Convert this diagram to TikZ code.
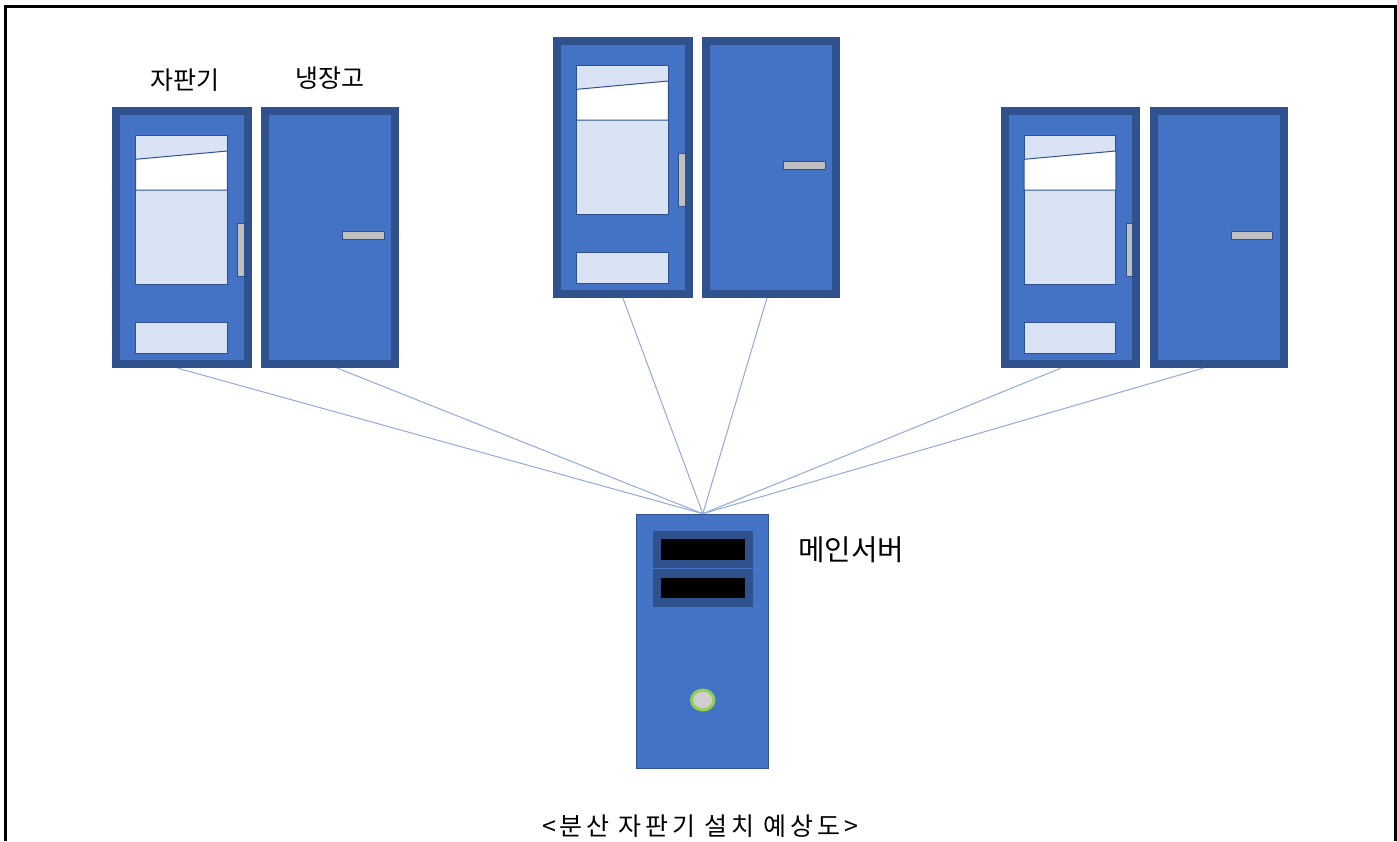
\documentclass[tikz,border=0pt]{standalone}
\usepackage{fontspec}
\setmainfont{Noto Sans CJK KR}
\usepackage{xcolor}
\usepackage{tikz}

\definecolor{bodyblue}{HTML}{4472C4}
\definecolor{rimblue}{HTML}{2F528F}
\definecolor{paneblue}{HTML}{DAE3F3}
\definecolor{gripgray}{HTML}{BFBFBF}
\definecolor{linkblue}{HTML}{8FAADC}
\definecolor{btngray}{HTML}{D0CECE}
\definecolor{btngreen}{HTML}{92D050}

\tikzset{
    body/.style={rectangle, fill=bodyblue, draw=rimblue, line width=4pt, inner sep=0pt},
    panel/.style={fill=paneblue, draw=rimblue, line width=0.5pt},
    grip/.style={fill=gripgray, draw=rimblue, line width=0.5pt},
    link/.style={draw=linkblue, line width=0.5pt},
    tag/.style={font=\fontsize{12.5}{15}\selectfont}
}

\begin{document}
\begin{tikzpicture}[x=0.5pt,y=-0.5pt]
        \useasboundingbox (0,0) rectangle (1397,841);

        %FRAME
        \draw[line width=1.5pt] (5,841) |- (1395,6) -- (1395,841);

        %MACHINES
        \foreach \i/\dx/\dy in {1/0/0, 2/441/-70, 3/888.5/0}{
            \begin{scope}[shift={(\dx,\dy)}]
                % vending machine
                \node[body, minimum width=65.7pt, minimum height=126.8pt] (vm\i) at (182,237.5) {};
                \filldraw[panel] (135.7,135) rectangle (227.3,284.3);
                \filldraw[fill=white, draw=rimblue, line width=0.5pt] (135.7,159.3) -- (227.3,151) -- (227.3,190) -- (135.7,190) -- cycle;
                \filldraw[panel] (135.7,322.7) rectangle (227.3,353.3);
                \filldraw[grip] (237.7,223.3) rectangle (244,276.7);
                % fridge
                \node[body, minimum width=65pt, minimum height=126.5pt] (fr\i) at (330,237.5) {};
                \filldraw[grip] (342.7,231) rectangle (384.3,239);
            \end{scope}
        }

        %SERVER
        \node[rectangle, fill=bodyblue, draw=rimblue, line width=0.5pt, inner sep=0pt,
              minimum width=66pt, minimum height=127pt] (srv) at (702.8,641.2) {};
        \fill[rimblue] (653.3,531) rectangle (753.3,568.3);
        \fill[rimblue] (653.3,569.3) rectangle (753.3,606.7);
        \fill[black] (661,539) rectangle (745,560);
        \fill[black] (661,577.7) rectangle (745,598.3);
        \filldraw[fill=btngray, draw=btngreen, line width=1.5pt] (702.7,700) ellipse (5.6pt and 5pt);

        %LINKS
        \foreach \n/\s in {vm1/-2pt, fr1/3.5pt, vm2/0pt, fr2/-2pt, vm3/-5pt, fr3/-7.5pt}{
            \draw[link] ([xshift=\s]\n.south) -- (srv.north);
        }

        %LABELS
        \node[tag] (vmname) at (185,80) {자판기};
        \node[tag] (frname) at (330,78) {냉장고};
        \node[tag, font=\fontsize{14.4}{17}\selectfont] (srvname) at (851,550) {메인서버};
        \node[tag, font=\fontsize{12.5}{15}\selectfont\addfontfeature{LetterSpace=15}] (caption) at (700,826) {<분산 자판기 설치 예상도>};
    \end{tikzpicture}
\end{document}
